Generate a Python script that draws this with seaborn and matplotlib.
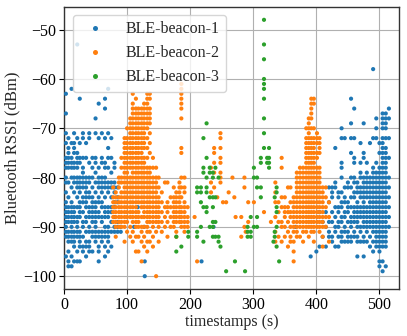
import numpy as np
import pandas as pd
import matplotlib
matplotlib.use("Agg")
import matplotlib.pyplot as plt
import seaborn as sns

labels = ["BLE-beacon-1", "BLE-beacon-2", "BLE-beacon-3"]

# ---- BLE-beacon-1 (blue) ----
b1_t = [3, 7, 12, 16, 21, 25, 30, 35, 40, 45, 50, 55, 60, 65, 70, 75, 80, 85, 90,
        111, 117, 127, 128, 218, 237,
        367, 391, 400, 405, 410, 415, 420, 425, 430, 435, 440, 445, 450, 455, 460,
        465, 470, 475, 480, 485, 490, 495, 500, 505, 510, 515]
b1_r = [
    [-63, -67, -71, -73, -76, -77, -78, -80, -81, -83, -85, -86, -87, -88, -89, -90, -91, -92, -96],
    [-72, -74, -75, -76, -77, -78, -81, -84, -86, -87, -88, -89, -91, -92, -93, -95, -97, -98],
    [-62, -73, -76, -77, -78, -80, -82, -85, -86, -87, -88, -89, -90, -91, -92, -93, -96, -98],
    [-71, -73, -74, -75, -77, -78, -80, -81, -83, -86, -87, -88, -89, -91, -92, -93, -94, -97],
    [-53, -72, -75, -76, -77, -78, -80, -81, -82, -84, -86, -88, -89, -90, -91, -92, -95, -97],
    [-64, -73, -76, -77, -80, -81, -82, -83, -85, -86, -87, -88, -91, -92, -93, -94, -97],
    [-71, -72, -76, -78, -79, -80, -81, -82, -84, -85, -87, -89, -90, -92, -94, -95],
    [-73, -76, -80, -81, -82, -83, -84, -85, -86, -88, -89, -91, -93, -94, -96],
    [-71, -72, -77, -80, -81, -83, -84, -86, -87, -88, -90, -91, -93, -94, -95],
    [-76, -78, -80, -82, -84, -85, -86, -87, -88, -89, -91, -92, -95],
    [-68, -71, -76, -77, -79, -81, -83, -85, -86, -87, -88, -89, -90, -91, -92, -93],
    [-65, -72, -78, -80, -81, -82, -84, -85, -87, -88, -91, -92, -94, -95, -97],
    [-71, -76, -77, -80, -81, -82, -83, -85, -86, -88, -89, -91, -92, -93],
    [-64, -66, -72, -77, -78, -80, -81, -82, -84, -86, -87, -88, -90, -91, -92, -94, -96],
    [-62, -71, -74, -76, -78, -81, -82, -83, -86, -87, -88, -90, -91, -92, -93, -95],
    [-72, -76, -79, -81, -82, -84, -86, -87, -89, -91, -94],
    [-77, -78, -81, -82, -83, -85, -86, -88, -90, -91],
    [-82, -84, -85, -89, -90, -91],
    [-90, -91],
    [-90], [-86], [-90], [-97, -100], [-97], [-90],
    [-90], [-96], [-95], [-87, -94], [-89, -92], [-87, -90, -94],
    [-82, -85, -89, -91, -92],
    [-82, -83, -84, -87, -89, -92, -93],
    [-74, -81, -82, -86, -88, -90, -91, -94],
    [-83, -84, -86, -87, -89, -90, -92, -94],
    [-70, -72, -77, -78, -80, -83, -85, -86, -88, -89, -91, -92, -93],
    [-72, -82, -84, -85, -87, -88, -90, -91, -93],
    [-81, -82, -85, -86, -87, -89, -91, -92, -93],
    [-64, -69, -72, -75, -80, -82, -84, -86, -88, -89, -90, -92, -93],
    [-66, -72, -76, -77, -80, -81, -83, -84, -86, -87, -88, -89, -91, -92],
    [-81, -82, -83, -85, -86, -87, -88, -89, -90, -92, -93, -96],
    [-73, -77, -79, -80, -82, -83, -84, -86, -87, -88, -90, -91, -93],
    [-69, -75, -76, -80, -81, -82, -83, -84, -85, -86, -87, -88, -89, -90, -92, -93, -96],
    [-77, -79, -80, -81, -82, -83, -84, -86, -87, -88, -89, -90, -91, -93],
    [-73, -80, -81, -82, -83, -84, -85, -86, -87, -88, -89, -90, -92, -94],
    [-58, -72, -78, -79, -80, -81, -82, -83, -84, -85, -86, -87, -88, -89, -90, -91, -93, -95],
    [-68, -70, -72, -77, -79, -80, -81, -82, -83, -84, -85, -86, -87, -88, -89, -90, -91, -92, -93, -94],
    [-73, -75, -78, -79, -80, -81, -82, -83, -84, -85, -86, -87, -88, -89, -90, -91, -92, -93, -94, -95, -97, -98],
    [-67, -68, -69, -70, -72, -73, -74, -75, -76, -77, -78, -79, -80, -81, -82, -83, -84, -85, -86, -87, -88, -89, -90, -91, -92, -93, -94, -97, -99],
    [-67, -68, -69, -70, -72, -74, -75, -76, -77, -78, -79, -80, -81, -82, -83, -84, -85, -86, -87, -88, -89, -90, -91, -92, -93, -94, -98],
    [-66, -68, -72, -76, -80, -82, -84, -86, -88, -90],
]

# ---- BLE-beacon-2 (orange) ----
b2_t = [78, 82, 87, 91, 96, 100, 105, 109, 114, 118, 123, 127, 132, 136, 141, 146, 150, 155,
        160, 164, 169, 174, 178, 183, 186, 191, 196,
        207, 211, 233, 238, 243, 248, 252, 257, 261, 267, 270, 272, 281, 286, 288, 292,
        301, 317, 328,
        335, 340, 345, 350, 355, 359, 364, 369, 374, 379, 384, 388, 392, 396, 401, 405,
        410, 415, 420]
b2_r = [
    [-82, -84, -85, -86, -87, -88, -89],
    [-83, -84, -85, -86, -87, -88, -89, -90, -92],
    [-80, -81, -82, -84, -85, -86, -87, -88, -89, -90],
    [-76, -78, -80, -81, -83, -84, -85, -86, -87, -88, -89, -90],
    [-72, -73, -74, -75, -76, -77, -78, -79, -80, -81, -82, -83, -84, -85, -86, -87, -88, -89, -90, -93],
    [-70, -72, -73, -74, -75, -76, -77, -78, -79, -80, -81, -82, -83, -84, -85, -86, -87, -88, -89, -91],
    [-68, -69, -70, -71, -72, -73, -74, -75, -76, -77, -78, -80, -81, -82, -83, -84, -85, -86, -87, -88, -90, -92],
    [-63, -65, -66, -67, -68, -69, -70, -71, -72, -73, -74, -75, -76, -77, -78, -79, -80, -81, -82, -83, -84, -85, -86, -87, -88, -89, -91, -93],
    [-64, -66, -67, -68, -69, -70, -71, -72, -73, -74, -75, -76, -77, -78, -79, -80, -81, -82, -83, -84, -85, -86, -87, -88, -89, -90, -92, -95],
    [-66, -67, -68, -69, -70, -71, -72, -73, -74, -75, -76, -77, -78, -79, -80, -81, -82, -83, -84, -85, -87, -88, -89, -90, -92, -95],
    [-66, -67, -68, -69, -70, -71, -72, -73, -74, -75, -76, -77, -78, -79, -80, -81, -82, -83, -84, -85, -86, -88, -90, -91, -93, -97],
    [-65, -66, -67, -68, -69, -70, -71, -72, -73, -74, -76, -77, -78, -79, -80, -81, -82, -83, -84, -85, -86, -87, -88, -90, -92, -94],
    [-63, -64, -65, -66, -67, -68, -69, -70, -72, -74, -76, -78, -79, -80, -81, -82, -83, -84, -85, -86, -87, -88, -89, -90, -91, -93, -95],
    [-63, -64, -66, -67, -68, -69, -71, -73, -75, -78, -79, -80, -81, -82, -83, -84, -85, -86, -87, -88, -89, -91, -93],
    [-76, -78, -80, -81, -82, -83, -84, -85, -86, -87, -88, -89, -90, -92, -94],
    [-78, -80, -81, -82, -83, -84, -85, -86, -87, -88, -89, -91, -100],
    [-80, -82, -84, -85, -86, -87, -88, -89, -90, -93],
    [-83, -85, -87, -89, -91],
    [-81, -86, -88, -90],
    [-81, -85, -86, -87, -89, -92],
    [-84, -86, -88, -90],
    [-82, -84, -85, -86, -87, -88, -89, -90],
    [-83, -84, -85, -86, -87, -88, -89, -91, -92],
    [-81, -82, -83, -84, -85, -86, -87, -88, -89],
    [-61, -62, -63, -64, -65, -66, -68, -74, -75, -80, -82, -84, -86, -87, -88, -89, -90],
    [-80, -82, -83, -85, -86, -87, -88, -89, -90, -91],
    [-86, -88, -89, -90],
    [-88], [-97], [-78, -81, -83], [-74, -75, -77, -79, -82], [-84],
    [-71, -72, -74, -76, -77, -79, -80, -81], [-85], [-85], [-83], [-80], [-84],
    [-88], [-88, -92], [-80, -82, -90], [-91], [-85, -89],
    [-85], [-87], [-89],
    [-81, -83, -85, -88, -91, -93],
    [-85, -87, -89, -92],
    [-76, -78, -84, -86, -89, -90, -93],
    [-84, -86, -87, -88, -90, -92],
    [-82, -86, -87, -89, -91, -94],
    [-82, -85, -87, -88, -90, -92, -93],
    [-84, -85, -86, -87, -88, -89, -90, -91, -93, -95, -97],
    [-79, -80, -81, -82, -83, -84, -85, -86, -87, -88, -89, -90, -91, -92],
    [-78, -79, -80, -81, -82, -83, -84, -85, -86, -87, -88, -89, -90, -92],
    [-78, -79, -80, -81, -82, -83, -84, -85, -86, -87, -88, -89, -90, -91, -93],
    [-70, -72, -73, -74, -75, -76, -77, -78, -79, -80, -81, -82, -83, -84, -85, -86, -87, -88, -89, -90, -91],
    [-68, -69, -70, -71, -72, -73, -74, -75, -76, -77, -78, -79, -80, -81, -82, -83, -84, -85, -86, -87, -88, -89, -90, -92],
    [-64, -65, -66, -67, -68, -70, -72, -73, -74, -75, -76, -77, -78, -79, -80, -81, -82, -83, -84, -85, -86, -87, -88, -89, -90, -91],
    [-64, -65, -70, -72, -73, -74, -75, -76, -77, -78, -79, -80, -81, -82, -83, -84, -85, -86, -87, -88, -89, -90, -91, -93],
    [-71, -72, -73, -75, -76, -78, -79, -80, -81, -82, -83, -84, -85, -86, -87, -88, -89, -90],
    [-72, -73, -74, -75, -78, -79, -80, -81, -82, -83, -84, -85, -86, -87, -88, -89, -90, -91],
    [-82, -83, -84, -85, -86, -87, -88, -89, -90, -92, -94],
    [-82, -84, -86, -88, -90],
    [-85, -88, -93],
]

# ---- BLE-beacon-3 (green) ----
b3_t = [178, 186, 197, 211, 217, 221, 226, 231, 236, 240, 245, 248, 257, 271, 287,
        291, 296, 301, 306, 312, 317, 322, 325, 332, 334, 337, 341]
b3_r = [
    [-92, -95], [-94], [-91, -92], [-82, -83, -91, -92],
    [-82, -83, -85, -90], [-72, -78, -79, -86, -93], [-69, -76, -80, -82, -83, -86, -87],
    [-78, -79, -84, -90], [-79, -80, -84, -86, -89, -90, -92], [-78, -84, -89, -92],
    [-80, -92, -93], [-94], [-99], [-97], [-99],
    [-90, -91, -92], [-88, -91, -92], [-78, -80, -90], [-80, -82, -88, -90],
    [-76, -77, -82, -84], [-48, -53, -56, -60, -61, -62, -64, -68, -71, -74],
    [-76, -77], [-74, -76, -77, -78], [-93], [-84, -91, -92],
    [-82, -83, -86, -87, -90, -94], [-97],
]


def flatten(ts, rs, name):
    rows = []
    for t, vals in zip(ts, rs):
        for v in vals:
            rows.append((t, v, name))
    return rows


rows = (flatten(b1_t, b1_r, labels[0]) + flatten(b2_t, b2_r, labels[1])
        + flatten(b3_t, b3_r, labels[2]))
df = pd.DataFrame(rows, columns=["timestamp", "rssi", "beacon"])

sns.set_style("ticks")
plt.rcParams["font.family"] = ["Liberation Serif", "DejaVu Serif"]

W, H = 407, 336
L, R, T, B = 64, 399, 7, 289
fig = plt.figure(figsize=(W / 100, H / 100), dpi=100)
ax = fig.add_axes([L / W, 1 - B / H, (R - L) / W, (B - T) / H])

sns.scatterplot(data=df, x="timestamp", y="rssi", hue="beacon", hue_order=labels,
                palette=["#1f77b4", "#ff7f0e", "#2ca02c"], s=9, linewidth=0,
                ax=ax, zorder=3)

ax.set_xlim(0, 531)
ax.set_ylim(-102.6, -45.4)
ax.set_xticks([0, 100, 200, 300, 400, 500])
ax.set_yticks([-50, -60, -70, -80, -90, -100])
ax.grid(True, color="#b0b0b0", linewidth=0.8, zorder=0)
ax.set_axisbelow(True)
for sp in ax.spines.values():
    sp.set_color("#333333")
    sp.set_linewidth(1.0)
ax.tick_params(labelsize=11.5, length=3.5, width=0.8, colors="black", pad=2)
ax.set_xlabel("timestamps (s)", fontsize=11.5, labelpad=1)
ax.set_ylabel("Bluetooth RSSI (dBm)", fontsize=12, labelpad=2)

leg = ax.legend(loc="upper left", fontsize=11.5, frameon=True, markerscale=1.2,
                borderpad=0.4, labelspacing=0.5, handletextpad=0.9,
                borderaxespad=0, bbox_to_anchor=((73 - L) / (R - L), (B - 15) / (B - T)))
leg.get_frame().set_alpha(0.8)
leg.get_frame().set_edgecolor("#cccccc")

fig.savefig("out.png", dpi=100)
